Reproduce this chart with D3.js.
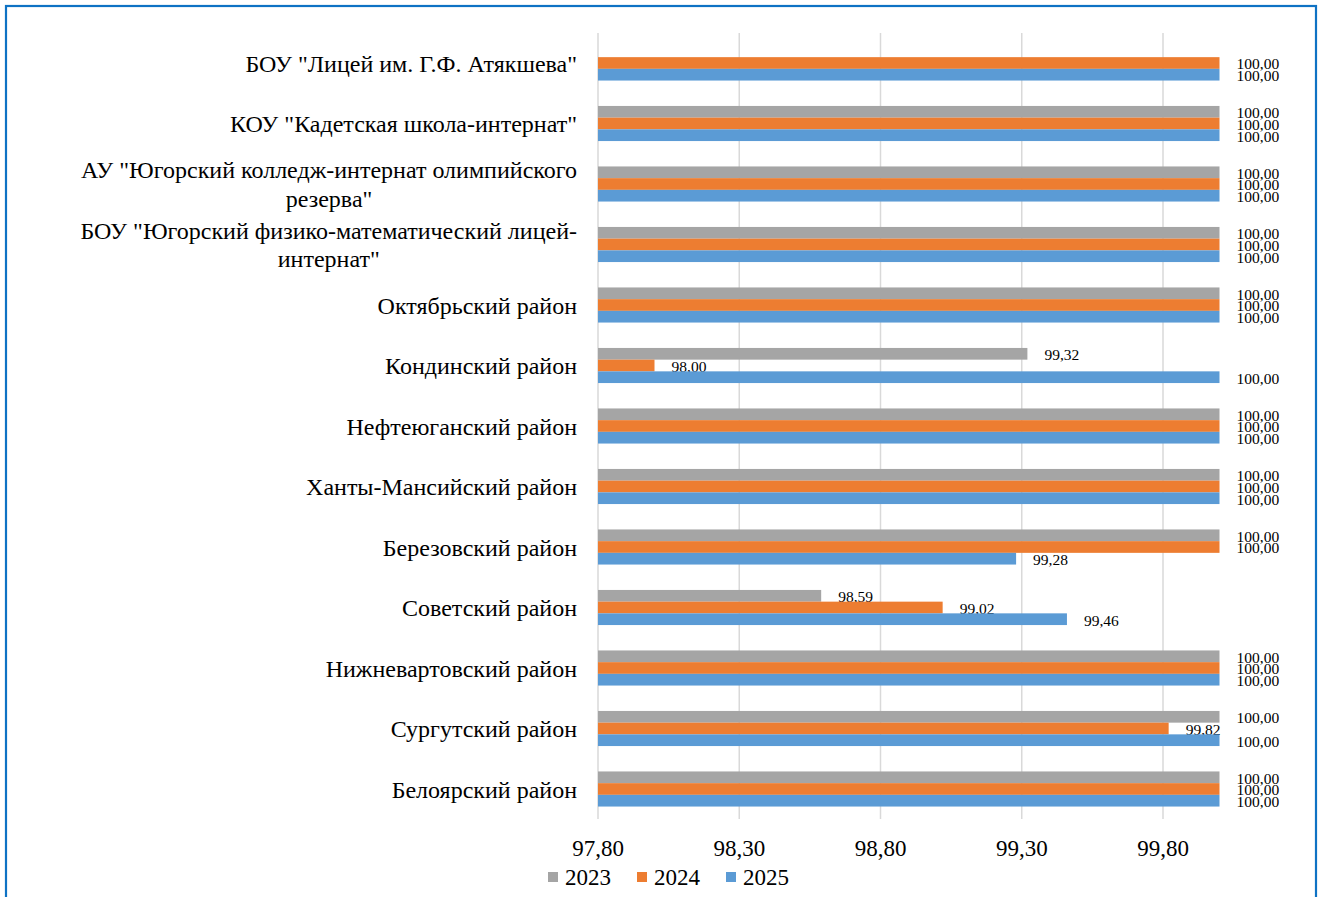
<!DOCTYPE html>
<html>
<head>
<meta charset="utf-8">
<script src="https://cdn.jsdelivr.net/npm/d3@7"></script>
<style>
  html, body { margin: 0; padding: 0; background: #fff; }
  svg { display: block; }
</style>
</head>
<body>
<svg id="chart" width="1319" height="897"></svg>
<script>
const categories = [
  'БОУ "Лицей им. Г.Ф. Атякшева"',
  'КОУ "Кадетская школа-интернат"',
  'АУ "Югорский колледж-интернат олимпийского резерва"',
  'БОУ "Югорский физико-математический лицей-интернат"',
  'Октябрьский район',
  'Кондинский район',
  'Нефтеюганский район',
  'Ханты-Мансийский район',
  'Березовский район',
  'Советский район',
  'Нижневартовский район',
  'Сургутский район',
  'Белоярский район'
];
const seriesNames = ['2023', '2024', '2025'];
const values2023 = [null, 100, 100, 100, 100, 99.32, 100, 100, 100, 98.59, 100, 100, 100];
const values2024 = [100, 100, 100, 100, 100, 98.00, 100, 100, 100, 99.02, 100, 99.82, 100];
const values2025 = [100, 100, 100, 100, 100, 100, 100, 100, 99.28, 99.46, 100, 100, 100];
const tickValues = [97.8, 98.3, 98.8, 99.3, 99.8];
const colors = ['#A5A5A5', '#ED7D31', '#5B9BD5'];

const seriesValues = [values2023, values2024, values2025];
const fmt = v => v.toFixed(2).replace('.', ',');
const FONT = '"Liberation Serif", "Times New Roman", serif';

const svg = d3.select('#chart');

// frame
svg.append('rect')
  .attr('x', 6).attr('y', 6).attr('width', 1310).attr('height', 905)
  .attr('fill', 'none').attr('stroke', '#0E72C4').attr('stroke-width', 2.2);

const x = d3.scaleLinear().domain([97.8, 100]).range([598, 1219.5]);
const y = d3.scaleBand().domain(categories).range([32.75, 819.25])
  .paddingInner(0.42).paddingOuter(0.21);
const ys = d3.scaleBand().domain(seriesNames).range([0, y.bandwidth()]);

// gridlines
svg.append('g').selectAll('line').data(tickValues).join('line')
  .attr('x1', d => x(d)).attr('x2', d => x(d))
  .attr('y1', 33).attr('y2', 819)
  .attr('stroke', '#D9D9D9').attr('stroke-width', 1.5);

// bars
const groups = svg.append('g').selectAll('g').data(categories).join('g')
  .attr('transform', c => `translate(0,${y(c)})`);

seriesNames.forEach((s, si) => {
  groups.each(function(c, ci) {
    const v = seriesValues[si][ci];
    if (v == null) return;
    const g = d3.select(this);
    g.append('rect')
      .attr('x', x(97.8)).attr('y', ys(s))
      .attr('width', x(v) - x(97.8)).attr('height', ys.bandwidth())
      .attr('fill', colors[si]);
    g.append('text')
      .attr('x', x(v) + 17).attr('y', ys(s) + ys.bandwidth() / 2 + 1)
      .attr('dominant-baseline', 'central')
      .attr('font-family', FONT).attr('font-size', 15.5).attr('fill', '#000')
      .text(fmt(v));
  });
});

// category labels with wrapping
const CAT_SIZE = 24, LINE_H = 28.5, MAXW = 520;
const measure = svg.append('text').attr('font-family', FONT).attr('font-size', CAT_SIZE).attr('visibility', 'hidden');
function textW(t) { measure.text(t); return measure.node().getComputedTextLength(); }
function wrap(str) {
  const parts = [];
  const re = /([^\s-]+-?)(\s*)/g;
  let m;
  while ((m = re.exec(str)) !== null) { if (m[0] === '') break; parts.push({w: m[1], sp: m[2] ? ' ' : ''}); }
  const lines = [];
  let cur = '';
  parts.forEach(p => {
    const trial = cur + p.w;
    if (cur && textW(trial.trim()) > MAXW) { lines.push(cur.trim()); cur = p.w + p.sp; }
    else cur = trial + p.sp;
  });
  if (cur.trim()) lines.push(cur.trim());
  return lines;
}
const labels = svg.append('g').attr('font-family', FONT).attr('font-size', CAT_SIZE).attr('fill', '#000');
categories.forEach(c => {
  const lines = wrap(c);
  const maxW = d3.max(lines, l => textW(l));
  const cx = 577 - maxW / 2;
  const cy = y(c) + y.bandwidth() / 2;
  const t = labels.append('text').attr('text-anchor', 'middle');
  lines.forEach((l, i) => {
    t.append('tspan').attr('x', cx)
      .attr('y', cy + (i - (lines.length - 1) / 2) * LINE_H + CAT_SIZE * 0.36)
      .text(l);
  });
});
measure.remove();

// x axis tick labels
svg.append('g').selectAll('text').data(tickValues).join('text')
  .attr('x', d => x(d)).attr('y', 856)
  .attr('text-anchor', 'middle')
  .attr('font-family', FONT).attr('font-size', 23).attr('fill', '#000')
  .text(d => fmt(d));

// legend
const legendX = [548, 637, 726];
const lg = svg.append('g').selectAll('g').data(seriesNames).join('g')
  .attr('transform', (d, i) => `translate(${legendX[i]},877)`);
lg.append('rect').attr('x', 0).attr('y', -5).attr('width', 10).attr('height', 10)
  .attr('fill', (d, i) => colors[i]);
lg.append('text').attr('x', 17).attr('y', 8)
  .attr('font-family', FONT).attr('font-size', 23).attr('fill', '#000')
  .text(d => d);
</script>
</body>
</html>
